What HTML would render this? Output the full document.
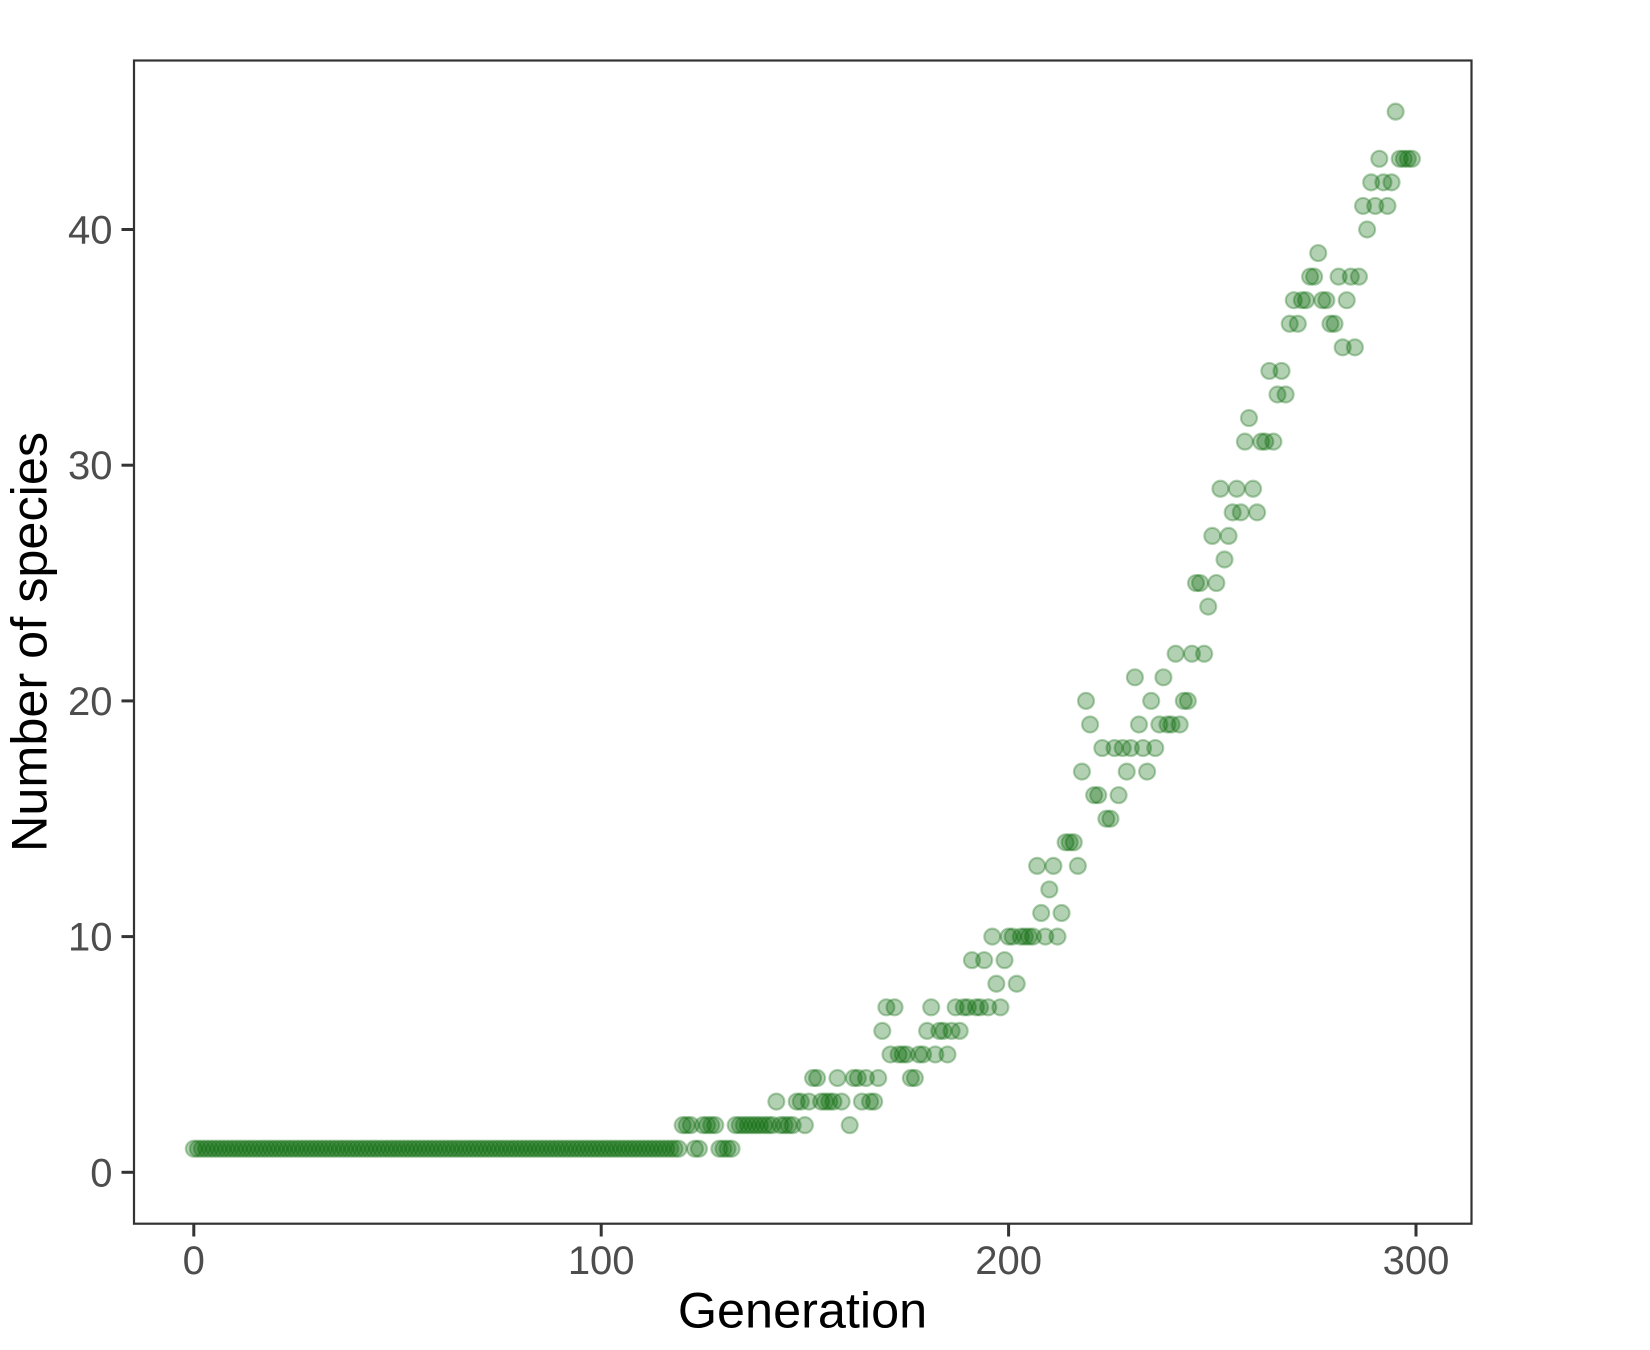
<!DOCTYPE html>
<html lang="en">
<head>
<meta charset="utf-8">
<title>Number of species by generation</title>
<style>
  html, body { margin: 0; padding: 0; background: #ffffff; }
  svg { display: block; font-family: "Liberation Sans", sans-serif; }
</style>
</head>
<body>
<svg id="chart" xmlns="http://www.w3.org/2000/svg" width="1650" height="1350" viewBox="0 0 1650 1350">
  <rect x="0" y="0" width="1650" height="1350" fill="#ffffff"/>
  <g id="points"></g>
  <rect x="134" y="60.5" width="1337.5" height="1163.2" fill="none" stroke="#333333" stroke-width="2.2"/>
  <g id="x-axis"></g>
  <g id="y-axis"></g>
  <text x="802.5" y="1327.5" font-size="50.4" text-anchor="middle" fill="#000000">Generation</text>
  <text transform="translate(46.7 642) rotate(-90)" font-size="50.4" text-anchor="middle" fill="#000000">Number of species</text>
</svg>
<script>
const xTickValues = [0, 100, 200, 300];
const yTickValues = [0, 10, 20, 30, 40];
const xTickLabels = ["0", "100", "200", "300"];
const yTickLabels = ["0", "10", "20", "30", "40"];

const generations = [
  0,1,2,3,4,5,6,7,8,9,10,11,12,13,14,15,16,17,18,19,20,21,22,23,24,25,26,27,28,29,
  30,31,32,33,34,35,36,37,38,39,40,41,42,43,44,45,46,47,48,49,50,51,52,53,54,55,56,57,58,59,
  60,61,62,63,64,65,66,67,68,69,70,71,72,73,74,75,76,77,78,79,80,81,82,83,84,85,86,87,88,89,
  90,91,92,93,94,95,96,97,98,99,100,101,102,103,104,105,106,107,108,109,110,111,112,113,114,115,116,117,118,119,
  123,124,129,130,131,132,
  120,121,122,125,126,127,128,133,134,135,136,137,138,139,140,141,142,144,145,146,147,150,161,
  143,148,149,151,154,155,156,157,159,164,166,167,
  152,153,158,162,163,165,168,176,177,
  171,173,174,175,178,179,182,185,
  169,180,183,184,186,188,
  170,172,181,187,189,190,192,193,195,198,
  197,202,
  191,194,199,
  196,200,201,203,204,205,206,209,212,
  208,213,
  210,
  207,211,217,
  214,215,216,
  224,225,
  221,222,227,
  218,229,234,
  223,226,228,230,233,236,
  220,232,237,239,240,242,
  219,235,243,244,
  231,238,
  241,245,248,
  249,
  246,247,251,
  253,
  250,254,
  255,257,261,
  252,256,260,
  258,262,263,265,
  259,
  266,268,
  264,267,
  282,285,
  269,271,279,280,
  270,272,273,277,278,283,
  274,275,281,284,286,
  276,
  288,
  287,290,293,
  289,292,294,
  291,296,297,298,299,
  295
];

const speciesCounts = [
  1,1,1,1,1,1,1,1,1,1,1,1,1,1,1,1,1,1,1,1,1,1,1,1,1,1,1,1,1,1,
  1,1,1,1,1,1,1,1,1,1,1,1,1,1,1,1,1,1,1,1,1,1,1,1,1,1,1,1,1,1,
  1,1,1,1,1,1,1,1,1,1,1,1,1,1,1,1,1,1,1,1,1,1,1,1,1,1,1,1,1,1,
  1,1,1,1,1,1,1,1,1,1,1,1,1,1,1,1,1,1,1,1,1,1,1,1,1,1,1,1,1,1,
  1,1,1,1,1,1,
  2,2,2,2,2,2,2,2,2,2,2,2,2,2,2,2,2,2,2,2,2,2,2,
  3,3,3,3,3,3,3,3,3,3,3,3,
  4,4,4,4,4,4,4,4,4,
  5,5,5,5,5,5,5,5,
  6,6,6,6,6,6,
  7,7,7,7,7,7,7,7,7,7,
  8,8,
  9,9,9,
  10,10,10,10,10,10,10,10,10,
  11,11,
  12,
  13,13,13,
  14,14,14,
  15,15,
  16,16,16,
  17,17,17,
  18,18,18,18,18,18,
  19,19,19,19,19,19,
  20,20,20,20,
  21,21,
  22,22,22,
  24,
  25,25,25,
  26,
  27,27,
  28,28,28,
  29,29,29,
  31,31,31,31,
  32,
  33,33,
  34,34,
  35,35,
  36,36,36,36,
  37,37,37,37,37,37,
  38,38,38,38,38,
  39,
  40,
  41,41,41,
  42,42,42,
  43,43,43,43,43,
  45
];

const SVG_NS = "http://www.w3.org/2000/svg";

function xScale(generation) {
  return 193.8 + 4.074 * generation;
}

function yScale(count) {
  return 1172.3 - 23.57 * count;
}

const pointsGroup = document.getElementById("points");
generations.forEach(function (generation, i) {
  const circle = document.createElementNS(SVG_NS, "circle");
  
  
  circle.setAttribute("cx", xScale(generation));
  circle.setAttribute("cy", yScale(speciesCounts[i]));
  circle.setAttribute("r", 8);
  circle.setAttribute("fill", "#006400");
  circle.setAttribute("fill-opacity", 0.3);
  circle.setAttribute("stroke", "#006400");
  circle.setAttribute("stroke-opacity", 0.3);
  circle.setAttribute("stroke-width", 2.2);
  pointsGroup.appendChild(circle);
});

const xAxisGroup = document.getElementById("x-axis");
xTickValues.forEach(function (value, i) {
  const tick = document.createElementNS(SVG_NS, "line");
  
  
  tick.setAttribute("x1", xScale(value));
  tick.setAttribute("x2", xScale(value));
  tick.setAttribute("y1", 1224);
  tick.setAttribute("y2", 1236.5);
  tick.setAttribute("stroke", "#333333");
  tick.setAttribute("stroke-width", 3);
  xAxisGroup.appendChild(tick);

  const label = document.createElementNS(SVG_NS, "text");
  
  
  label.setAttribute("x", xScale(value));
  label.setAttribute("y", 1274);
  label.setAttribute("font-size", 40);
  label.setAttribute("text-anchor", "middle");
  label.setAttribute("fill", "#4d4d4d");
  label.textContent = xTickLabels[i];
  xAxisGroup.appendChild(label);
});

const yAxisGroup = document.getElementById("y-axis");
yTickValues.forEach(function (value, i) {
  const tick = document.createElementNS(SVG_NS, "line");
  
  
  tick.setAttribute("x1", 121.5);
  tick.setAttribute("x2", 134);
  tick.setAttribute("y1", yScale(value));
  tick.setAttribute("y2", yScale(value));
  tick.setAttribute("stroke", "#333333");
  tick.setAttribute("stroke-width", 3);
  yAxisGroup.appendChild(tick);

  const label = document.createElementNS(SVG_NS, "text");
  
  
  label.setAttribute("x", 112.5);
  label.setAttribute("y", yScale(value) + 14);
  label.setAttribute("font-size", 40);
  label.setAttribute("text-anchor", "end");
  label.setAttribute("fill", "#4d4d4d");
  label.textContent = yTickLabels[i];
  yAxisGroup.appendChild(label);
});
</script>
</body>
</html>
